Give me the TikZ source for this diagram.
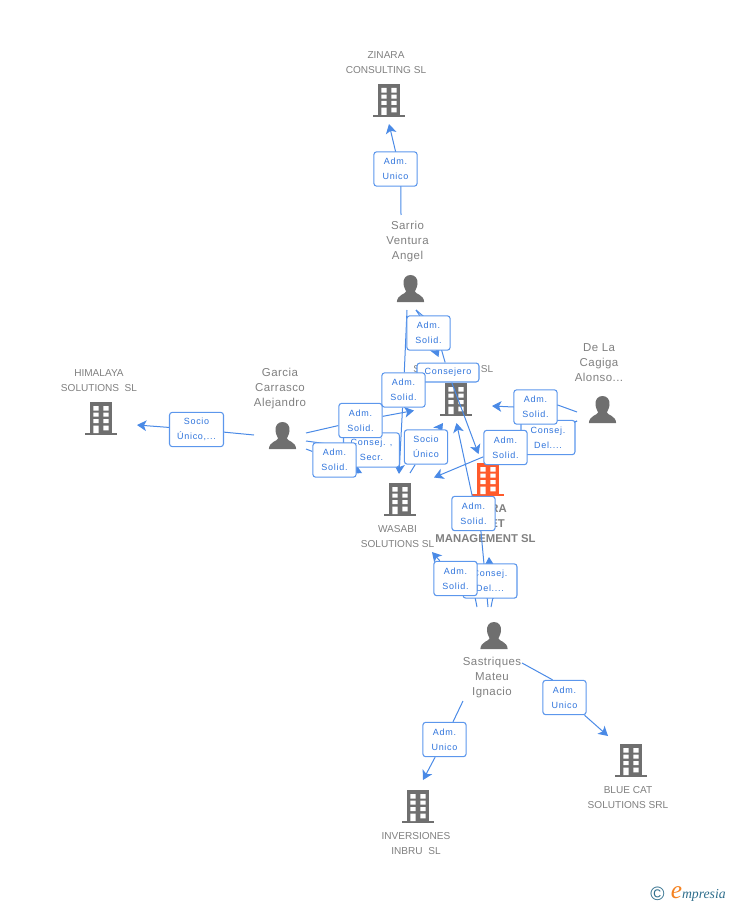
\documentclass[tikz,border=0pt]{standalone}
\usepackage{fontspec}
\setmainfont{Liberation Sans}
\newfontfamily\boxfont[LetterSpace=8]{Liberation Sans}
\newfontfamily\persfont[LetterSpace=4]{Liberation Sans}
\newfontfamily\logofont{Liberation Serif}
\usetikzlibrary{arrows.meta}
\definecolor{linkblue}{HTML}{4A8AE6}
\definecolor{boxedge}{HTML}{5C97EC}
\definecolor{boxtext}{HTML}{2F74DC}
\definecolor{ink}{HTML}{6F6F6F}
\definecolor{labelgray}{HTML}{808080}
\definecolor{coral}{HTML}{FF5A2B}
\definecolor{logoteal}{HTML}{2F6E8C}
\definecolor{logoorange}{HTML}{F58220}
\tikzset{
  conn/.style={draw=linkblue,line width=.75pt},
  arr/.style={conn,-{Stealth[length=7pt,width=8pt,inset=1.8pt]}},
  rolebox/.style={draw=boxedge,line width=.8pt,fill=white,rounded corners=2.2pt,inner sep=0pt,
    minimum width=32.5pt,minimum height=25.8pt,align=center,text=boxtext,
    font=\boxfont\fontsize{6.75pt}{11.25pt}\selectfont},
  widebox/.style={rolebox,minimum width=40.5pt},
  conbox/.style={rolebox,minimum width=46.5pt,minimum height=14.2pt},
  companylabel/.style={inner sep=0pt,align=center,text=labelgray,font=\fontsize{7.55pt}{11.25pt}\selectfont},
  personlabel/.style={inner sep=0pt,align=center,text=labelgray,font=\persfont\fontsize{8.6pt}{11.25pt}\selectfont},
  mainlabel/.style={inner sep=0pt,align=center,text=labelgray,font=\bfseries\fontsize{8.5pt}{11.25pt}\selectfont},
  iconframe/.style={inner sep=0pt,minimum width=24pt,minimum height=25pt},
}
\newcommand{\bldg}[4]{%
  \begin{scope}[shift={(#2,#3)}]
    \fill[#4] (-11,0) rectangle (11,32);
    \fill[#4] (-16,31) rectangle (16,33.4);
    \fill[white] (-7.7,4) rectangle (-2.3,8.7) (2.3,4) rectangle (7.7,8.7)
      (-7.7,10.7) rectangle (-2.3,14.7) (2.3,10.7) rectangle (7.7,14.7)
      (-7.7,17) rectangle (-2.3,21) (2.3,17) rectangle (7.7,21)
      (-7.7,23.7) rectangle (-2.3,31) (2.3,23.7) rectangle (7.7,28.3);
    \node[iconframe] (#1) at (0,16.7) {};
  \end{scope}}
\newcommand{\pers}[3]{%
  \begin{scope}[shift={(#2,#3)}]
    \fill[ink] (0,0) .. controls (5,0) and (7.5,4) .. (7,9)
      .. controls (6.6,13) and (4.6,15) .. (4.4,16.5)
      .. controls (4.6,19) and (13.4,19.5) .. (13.6,27) -- (-13.6,27)
      .. controls (-13.4,19.5) and (-4.6,19) .. (-4.4,16.5)
      .. controls (-4.6,15) and (-6.6,13) .. (-7,9)
      .. controls (-7.5,4) and (-5,0) .. (0,0) -- cycle;
    \node[iconframe] (#1) at (0,13.5) {};
  \end{scope}}
\begin{document}
\begin{tikzpicture}[x=.75pt,y=-.75pt]
\useasboundingbox (0,0) rectangle (728,905);
% icons
\bldg{zinara}{389}{84}{ink}
\bldg{himalaya}{101}{402}{ink}
\bldg{hidden}{456}{383}{ink}
\bldg{wasabi}{400}{483}{ink}
\bldg{asset}{488}{463}{coral}
\bldg{inbru}{418}{790}{ink}
\bldg{bluecat}{631}{744}{ink}
\pers{sarrio}{410.5}{275}
\pers{garcia}{282.5}{422}
\pers{cagiga}{602.5}{396}
\pers{sastriques}{494}{622}
% labels
\node[companylabel] (tzinara) at (386,63) {ZINARA\\CONSULTING SL};
\node[companylabel] (thimalaya) at (99,381) {HIMALAYA\\SOLUTIONS\ \ SL};
\node[companylabel] (twasabi) at (397.5,536.5) {WASABI\\SOLUTIONS SL};
\node[companylabel] (tinbru) at (416,843.5) {INVERSIONES\\INBRU\ \ SL};
\node[companylabel] (tbluecat) at (628,798) {BLUE CAT\\SOLUTIONS SRL};
\node[companylabel,anchor=west] (thidA) at (413,369.5) {S};
\node[companylabel,anchor=east] (thidB) at (493.5,369.5) {SL};
\node[mainlabel,anchor=east] (tassetA) at (507,508.5) {RA};
\node[mainlabel,anchor=east] (tassetB) at (505,523.5) {ET};
\node[mainlabel] (tassetC) at (485.5,538.5) {MANAGEMENT SL};
\node[personlabel] (tsarrio) at (407.5,241.5) {Sarrio\\Ventura\\Angel};
\node[personlabel] (tgarcia) at (280,388.5) {Garcia\\Carrasco\\Alejandro};
\node[personlabel] (tcagiga) at (599,363) {De La\\Cagiga\\Alonso...};
\node[personlabel] (tsastriques) at (492,678) {Sastriques\\Mateu\\Ignacio};
% free ends of connectors
\coordinate (sarrioA) at (401,215);
\coordinate (sarrioB) at (407,310);
\coordinate (sarrioC) at (416,310);
\coordinate (sarrioD) at (423,316);
\coordinate (endZinara) at (389,124);
\coordinate (endWasabi) at (399,474);
\coordinate (endHidA) at (438.5,357);
\coordinate (endAsset) at (478.5,454);
\coordinate (garciaW) at (254,435);
\coordinate (endHim) at (137,425);
\coordinate (garciaA) at (306,433);
\coordinate (garciaB) at (306,441);
\coordinate (garciaC) at (306,449);
\coordinate (endHidB) at (414,410.5);
\coordinate (endWasC) at (362,473);
\coordinate (wasabiN) at (410,473);
\coordinate (endHidC) at (443,423);
\coordinate (cagigaA) at (577,412);
\coordinate (cagigaB) at (577,421);
\coordinate (endHidD) at (492,406);
\coordinate (endWasD) at (434,477.5);
\coordinate (sastA) at (488,607);
\coordinate (sastB) at (491,607);
\coordinate (sastC) at (477,607);
\coordinate (endHidE) at (456.5,423);
\coordinate (endAssetB) at (489,557);
\coordinate (endWasE) at (432,552);
\coordinate (sastR) at (522,663);
\coordinate (sastL) at (463,701);
\coordinate (endBlue) at (608,736);
\coordinate (endInbru) at (423,780);
\coordinate (midA) at (441,348);
\coordinate (midB) at (481,532);
\coordinate (midC) at (472,495);
\coordinate (midD) at (475,597);
\coordinate (midE) at (493,597);
% role boxes are placed first so that connectors can use their names, then painted over
\begin{scope}[every node/.append style={opacity=0}]
\node[rolebox] (b1) at (395.5,169) {};
\node[widebox] (b2) at (196.5,429.5) {};
\node[rolebox] (b3) at (428.5,333) {};
\node[conbox] (b4) at (448,372.5) {};
\node[rolebox] (b5) at (403.5,390) {};
\node[rolebox] (b6) at (360.5,420.5) {};
\node[rolebox] (b7) at (371.5,450) {};
\node[rolebox] (b8) at (334.5,460) {};
\node[rolebox] (b9) at (426,447) {};
\node[rolebox] (b10) at (535.5,407) {};
\node[rolebox] (b11) at (548,437.5) {};
\node[rolebox] (b12) at (505.5,447.5) {};
\node[rolebox] (b13) at (473.5,513.5) {};
\node[rolebox] (b14) at (490,581) {};
\node[rolebox] (b15) at (455.5,578.5) {};
\node[rolebox] (b16) at (444.5,739.5) {};
\node[rolebox] (b17) at (564.5,697.5) {};
\end{scope}
% connectors
\draw[arr] (sarrioA) -- ([xshift=4pt]b1.south) -- (b1.north) -- (endZinara);
\draw[arr] (garciaW) -- (b2) -- (endHim);
\draw[arr] (sarrioB) -- (b5) -- (endWasabi);
\draw[arr] (sarrioC) -- (sarrioD) -- (b3) -- (endHidA);
\draw[arr] (sarrioC) -- (midA) -- (b4) -- (endAsset);
\draw[arr] (garciaA) -- (b6) -- (endHidB);
\draw[conn] (garciaB) -- (b7);
\draw[arr] (garciaC) -- (b8) -- (endWasC);
\draw[arr] (wasabiN) -- (b9) -- (endHidC);
\draw[arr] (cagigaA) -- ([yshift=1.5pt]b10.east) -- (b10.west) -- (endHidD);
\draw[conn] (cagigaB) -- (b11);
\draw[arr] (cagigaB) -- (b12) -- (endWasD);
\draw[arr] (sastA) -- (midB) -- (midC) -- (endHidE);
\draw[arr] (sastB) -- (midE) -- (b14) -- (endAssetB);
\draw[arr] (sastC) -- (midD) -- (b15) -- (endWasE);
\draw[arr] (sastR) -- ([xshift=-9pt]b17.north) -- (b17) -- (endBlue);
\draw[arr] (sastL) -- (b16) -- (endInbru);
% role boxes
\node[rolebox] at (b1) {Adm.\\Unico};
\node[widebox] at (b2) {Socio\\Único,...};
\node[conbox] at (b4) {Consejero};
\node[rolebox] at (b3) {Adm.\\Solid.};
\node[rolebox] at (b5) {Adm.\\Solid.};
\node[rolebox,minimum width=42pt] at (b7) {Consej. ,\\Secr.};
\node[rolebox] at (b6) {Adm.\\Solid.};
\node[rolebox] at (b8) {Adm.\\Solid.};
\node[rolebox] at (b9) {Socio\\Único};
\node[rolebox,minimum width=40.5pt] at (b11) {Consej.\\Del....};
\node[rolebox] at (b10) {Adm.\\Solid.};
\node[rolebox] at (b12) {Adm.\\Solid.};
\node[rolebox] at (b13) {Adm.\\Solid.};
\node[rolebox,minimum width=40.5pt] at (b14) {Consej.\\Del....};
\node[rolebox] at (b15) {Adm.\\Solid.};
\node[rolebox] at (b16) {Adm.\\Unico};
\node[rolebox] at (b17) {Adm.\\Unico};
% logo
\node[inner sep=0pt,text=logoteal,font=\fontsize{14.5pt}{14.5pt}\selectfont] (copyr) at (657.5,894) {©};
\node[inner sep=0pt,anchor=base west,font=\logofont\itshape\fontsize{10.3pt}{11pt}\selectfont,text=logoteal] (brand) at (670.5,898)
  {{\color{logoorange}\fontsize{19pt}{19pt}\selectfont e}mpresia};
\end{tikzpicture}
\end{document}
